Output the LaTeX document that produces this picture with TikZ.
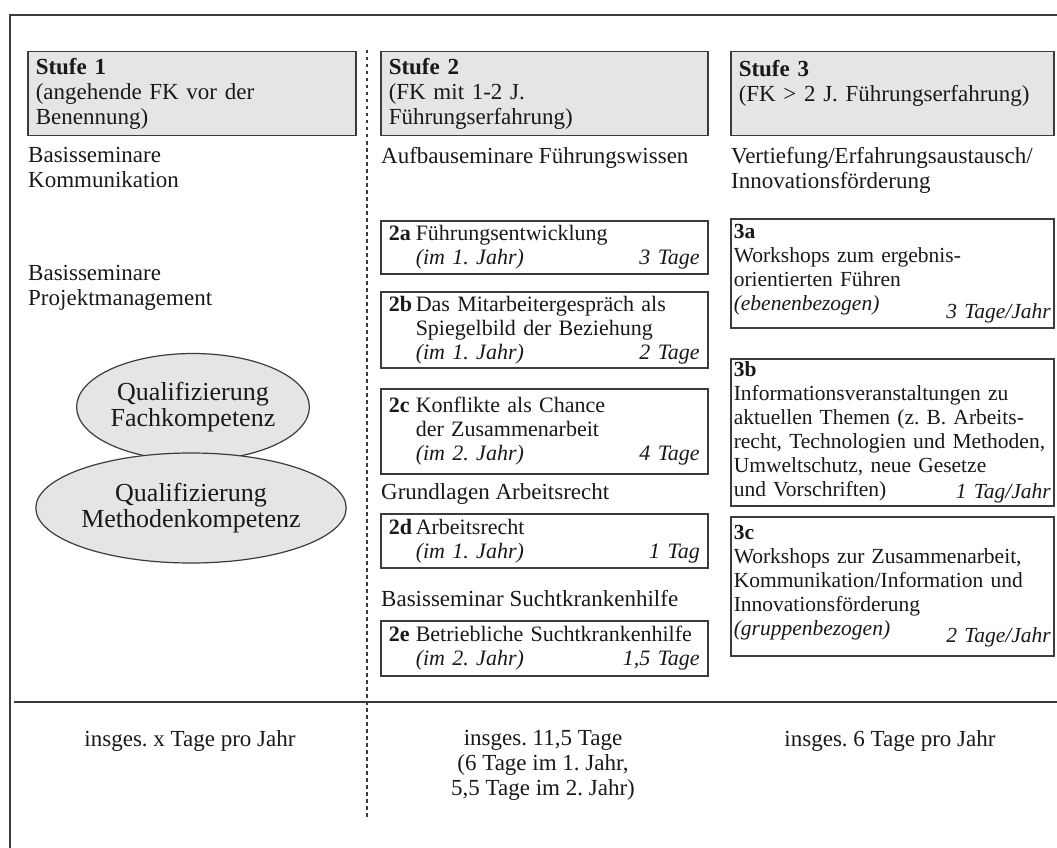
\documentclass[tikz,border=0pt]{standalone}
\usepackage{fontspec}
\setmainfont{Liberation Serif}
\usetikzlibrary{positioning,shapes.geometric}
\frenchspacing
\definecolor{stLine}{RGB}{60,60,62}
\definecolor{stGray}{RGB}{228,229,230}
\definecolor{stText}{RGB}{25,25,25}
\tikzset{
    base/.style={font=\fontsize{23}{25}\selectfont, text=stText, align=left},
    kopf/.style={base, rectangle, anchor=north west, draw=stLine, line width=1.5pt,
                 fill=stGray, inner xsep=8pt, inner ysep=4pt, minimum height=84pt},
    kasten/.style={base, rectangle, anchor=north west, draw=stLine, line width=1.5pt,
                   fill=white, inner ysep=3pt, font=\fontsize{22}{24}\selectfont},
    kurs/.style={kasten, text width=311pt, inner xsep=8pt},
    angebot/.style={kasten, text width=317pt, inner xsep=3pt, font=\fontsize{21.5}{24}\selectfont},
    thema/.style={base, anchor=north west, inner sep=0pt},
    quali/.style={base, align=center, ellipse, draw=stLine, line width=1.2pt,
                  fill=stGray, inner sep=0pt, font=\fontsize{26}{26}\selectfont},
    summe/.style={base, align=center, anchor=north, inner sep=0pt},
    trenner/.style={stLine, line width=2.4pt, dash pattern=on 3.5pt off 3.5pt},
    linie/.style={stLine, line width=1.8pt}
}
\newcommand{\seminar}[4]{\makebox[27pt][l]{\textbf{#1}}\parbox[t]{284pt}{#2\\\textit{#3}\hfill\textit{#4}}}

\begin{document}
\begin{tikzpicture}[x=1pt, y=-1pt]
  \useasboundingbox (0,0) rectangle (1057,848);

  % frame, divider, rule
  \draw[linie] (10,848) -- (10,15) -- (1057,15);
  \draw[trenner] (367,50) -- (367,820);
  \draw[linie] (14,702) -- (1057,702);

  % Stufe 1
  \node[kopf, text width=312pt] (s1) at (27,51)
    {\textbf{Stufe 1}\\(angehende FK vor der\\Benennung)};
  \node[thema] (t1a) at (28,147) {Basisseminare\\Kommunikation};
  \node[thema] (t1b) at (28,265) {Basisseminare\\Projektmanagement};
  \node[quali, minimum width=222pt, minimum height=107pt] (q1) at (193,407)
    {Qualifizierung\\Fachkompetenz};
  \node[quali, minimum width=228pt, minimum height=110pt] (q2) at (191,508)
    {Qualifizierung\\Methodenkompetenz};

  % Stufe 2
  \node[kopf, text width=311pt] (s2) at (380,51)
    {\textbf{Stufe 2}\\(FK mit 1-2 J.\\Führungserfahrung)};
  \node[thema] (t2a) at (381,147) {Aufbauseminare Führungswissen};
  \node[kurs, minimum height=53pt] (k2a) at (380,220)
    {\seminar{2a}{Führungsentwicklung}{(im 1. Jahr)}{3 Tage}};
  \node[kurs, minimum height=76pt] (k2b) at (380,291)
    {\seminar{2b}{Das Mitarbeitergespräch als\\Spiegelbild der Beziehung}{(im 1. Jahr)}{2 Tage}};
  \node[kurs, minimum height=85pt] (k2c) at (380,388)
    {\seminar{2c}{Konflikte als Chance\\der Zusammenarbeit}{(im 2. Jahr)}{4 Tage}};
  \node[thema] (t2b) at (381,483) {Grundlagen Arbeitsrecht};
  \node[kurs, minimum height=54pt] (k2d) at (380,513)
    {\seminar{2d}{Arbeitsrecht}{(im 1. Jahr)}{1 Tag}};
  \node[thema] (t2c) at (381,590) {Basisseminar Suchtkrankenhilfe};
  \node[kurs, minimum height=55pt] (k2e) at (380,620)
    {\seminar{2e}{Betriebliche Suchtkrankenhilfe}{(im 2. Jahr)}{1,5 Tage}};

  % Stufe 3
  \node[kopf, text width=307pt] (s3) at (730,51)
    {\textbf{Stufe 3}\\(FK > 2 J. Führungserfahrung)\\\mbox{}};
  \node[thema] (t3) at (731,147) {Vertiefung/Erfahrungsaustausch/\\Innovationsförderung};
  \node[angebot, minimum height=109pt] (k3a) at (730,218)
    {\textbf{3a}\\Workshops zum ergebnis-\\orientierten Führen\\
     \textit{(ebenenbezogen)}\hfill\raisebox{-8pt}{\textit{3 Tage/Jahr}}};
  \node[angebot, minimum height=142pt] (k3b) at (730,358)
    {\textbf{3b}\\Informationsveranstaltungen zu\\aktuellen Themen (z. B. Arbeits-\\
     \mbox{recht, Technologien und Methoden,}\\Umweltschutz, neue Gesetze\\
     und Vorschriften)\hfill\raisebox{-2pt}{\textit{1 Tag/Jahr}}};
  \node[angebot, minimum height=139pt] (k3c) at (730,516)
    {\textbf{3c}\\Workshops zur Zusammenarbeit,\\Kommunikation/Information und\\
     Innovationsförderung\\\textit{(gruppenbezogen)}\hfill\raisebox{-7pt}{\textit{2 Tage/Jahr}}};

  % totals
  \node[summe] (g1) at (190,730) {insges. x Tage pro Jahr};
  \node[summe] (g2) at (543,730) {insges. 11,5 Tage\\(6 Tage im 1. Jahr,\\5,5 Tage im 2. Jahr)};
  \node[summe] (g3) at (890,730) {insges. 6 Tage pro Jahr};
\end{tikzpicture}
\end{document}
